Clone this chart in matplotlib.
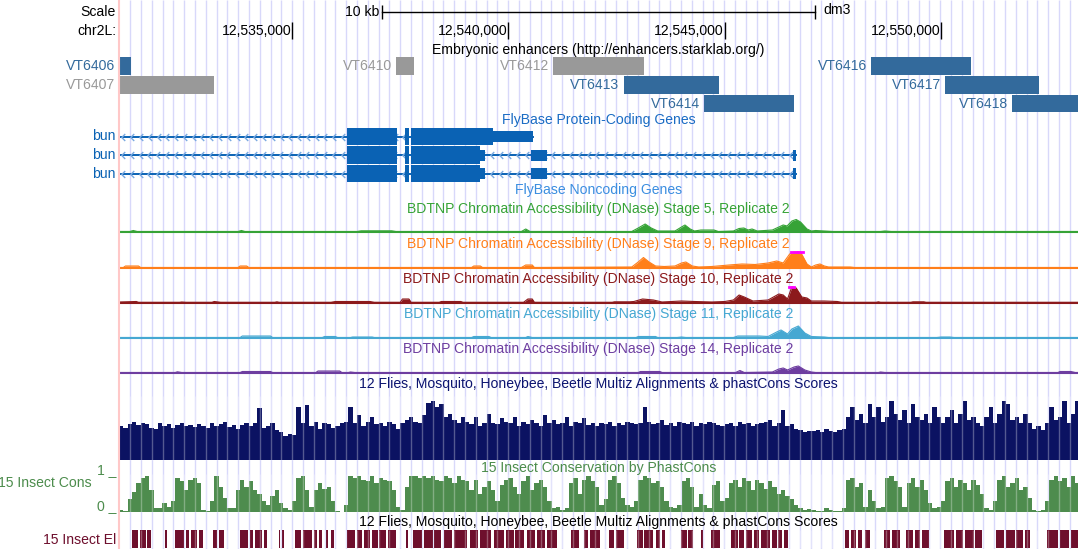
import numpy as np
import matplotlib.pyplot as plt
from matplotlib.path import Path

plt.rcParams['font.family'] = ['Liberation Sans', 'DejaVu Sans']

# ---- data (positions in kb on chr2L) ----
win_start = 12531.0
win_end = 12553.163

tick_kb = [12535, 12540, 12545, 12550]
tick_labels = ['12,535,000', '12,540,000', '12,545,000', '12,550,000']

enh_names = ['VT6406', 'VT6407', 'VT6410', 'VT6412', 'VT6413', 'VT6414', 'VT6416', 'VT6417', 'VT6418']
enh_start = [12530.90, 12530.90, 12537.40, 12541.04, 12542.66, 12544.51, 12548.38, 12550.09, 12551.64]
enh_end = [12531.28, 12533.19, 12537.82, 12543.13, 12544.87, 12546.61, 12550.68, 12552.27, 12553.70]
enh_row = [0, 1, 0, 0, 1, 2, 0, 1, 2]
enh_active = [True, False, False, False, True, True, True, True, True]

# bun transcripts: exons, coding range, transcript end
tx_exons = [
    [(12536.26, 12537.42), (12537.62, 12537.70), (12537.74, 12540.56)],
    [(12536.26, 12537.42), (12537.62, 12537.70), (12537.74, 12539.47), (12540.51, 12540.88), (12546.57, 12546.64)],
    [(12536.26, 12537.42), (12537.62, 12537.70), (12537.74, 12539.47), (12540.51, 12540.88), (12546.57, 12546.64)],
]
tx_cds = [(12536.26, 12539.65), (12536.26, 12539.34), (12536.26, 12539.34)]
tx_end = [12540.56, 12546.64, 12546.64]

# DNase signal, (position, signal)
stage5 = [(12531.00, 0.5), (12531.25, 0.5), (12531.33, 1.5), (12531.42, 0.5), (12533.75, 0.5), (12533.83, 1.5),
          (12533.91, 0.5), (12536.50, 0.5), (12536.60, 1.2), (12537.30, 1.2), (12537.40, 0.5), (12540.30, 0.5),
          (12540.40, 3), (12540.50, 0.5), (12542.85, 0.5), (12543.00, 4), (12543.16, 8), (12543.30, 4),
          (12543.45, 1), (12543.85, 1), (12544.00, 5), (12544.08, 7), (12544.20, 3), (12544.30, 1),
          (12544.45, 2), (12544.75, 2), (12544.85, 0.5), (12545.20, 1), (12545.33, 3.5), (12545.44, 4),
          (12545.54, 2), (12545.63, 3), (12545.75, 1), (12546.10, 2), (12546.25, 5), (12546.35, 7),
          (12546.44, 6), (12546.55, 11), (12546.65, 12.5), (12546.75, 10), (12546.90, 3), (12547.00, 1),
          (12547.10, 1.5), (12547.30, 1), (12547.50, 0.5), (12548.60, 0.5), (12548.70, 1), (12548.85, 0.5),
          (12553.20, 0.5)]
stage9 = [(12531.00, 0.5), (12531.10, 0.5), (12531.15, 2), (12531.45, 2), (12531.50, 0.5), (12533.75, 0.5),
          (12533.80, 2), (12533.95, 2), (12534.00, 0.5), (12539.15, 0.5), (12539.20, 2), (12539.35, 2),
          (12539.40, 0.5), (12540.30, 0.5), (12540.40, 3), (12540.55, 3), (12540.60, 0.5), (12542.85, 1),
          (12543.00, 6), (12543.12, 10.5), (12543.25, 6), (12543.40, 2), (12543.60, 1.5), (12543.85, 2),
          (12544.00, 5), (12544.10, 6), (12544.25, 2), (12544.40, 1), (12544.70, 1.5), (12545.10, 3),
          (12545.40, 4), (12545.70, 3.5), (12546.00, 5), (12546.20, 7), (12546.35, 5), (12546.50, 14),
          (12546.60, 17), (12546.75, 16.5), (12546.90, 4), (12547.00, 1), (12547.10, 3), (12547.20, 4),
          (12547.30, 2), (12547.40, 1), (12547.90, 1), (12548.00, 0.5), (12553.20, 0.5)]
stage10 = [(12531.00, 1), (12531.40, 1.5), (12531.45, 0.7), (12532.40, 0.7), (12532.45, 1), (12532.55, 0.7),
           (12533.15, 0.7), (12533.20, 1.5), (12533.35, 0.7), (12534.60, 0.7), (12534.65, 1.2), (12534.70, 0.7),
           (12535.90, 0.7), (12536.00, 1.5), (12536.80, 1.5), (12536.90, 0.7), (12537.50, 0.7), (12537.55, 4),
           (12537.70, 4), (12537.75, 0.7), (12538.40, 0.7), (12538.45, 1.5), (12538.90, 1.5), (12538.95, 0.7),
           (12540.35, 0.7), (12540.45, 4), (12540.55, 4), (12540.60, 0.7), (12542.40, 0.7), (12542.45, 1.2),
           (12542.80, 1.2), (12542.90, 1.5), (12543.10, 4), (12543.35, 3), (12543.55, 1), (12544.00, 2),
           (12544.30, 1.5), (12544.70, 1), (12545.00, 1.5), (12545.20, 3), (12545.33, 8), (12545.45, 6),
           (12545.65, 2), (12546.00, 3), (12546.25, 9), (12546.35, 8), (12546.45, 4), (12546.55, 17),
           (12546.65, 15), (12546.78, 6), (12546.90, 5), (12547.00, 2), (12547.30, 2), (12547.60, 1.5),
           (12547.70, 0.7), (12548.50, 0.7), (12548.55, 1.2), (12548.60, 0.7), (12549.30, 0.7), (12549.35, 1.2),
           (12549.60, 1.2), (12549.65, 0.7), (12553.20, 0.7)]
stage11 = [(12531.00, 0.5), (12533.80, 0.5), (12533.85, 2), (12534.50, 2), (12534.55, 0.5), (12535.70, 0.5),
           (12535.75, 1.5), (12536.00, 1.5), (12536.05, 0.5), (12536.35, 0.5), (12536.40, 1), (12536.85, 1),
           (12536.90, 0.5), (12539.15, 0.5), (12539.20, 1.5), (12539.55, 1.5), (12539.60, 0.5), (12540.40, 0.5),
           (12540.45, 1.5), (12540.55, 0.5), (12542.95, 0.5), (12543.00, 1.5), (12543.40, 1.5), (12543.45, 0.5),
           (12543.90, 0.5), (12544.00, 1), (12544.10, 0.5), (12545.20, 0.5), (12545.30, 2), (12545.80, 2),
           (12546.00, 1.5), (12546.20, 6), (12546.30, 8), (12546.45, 4), (12546.55, 9), (12546.70, 12),
           (12546.85, 5), (12547.00, 1.5), (12547.30, 1), (12547.40, 0.5), (12549.90, 0.5), (12550.00, 1),
           (12550.20, 1), (12550.30, 0.5), (12553.20, 0.5)]
stage14 = [(12531.00, 0.5), (12532.30, 0.5), (12532.35, 1.2), (12532.45, 0.5), (12533.80, 0.5), (12533.85, 1.5),
           (12534.50, 1.5), (12534.55, 0.5), (12535.55, 0.5), (12535.60, 2), (12536.10, 2), (12536.15, 0.5),
           (12536.30, 0.5), (12536.35, 1), (12536.45, 0.5), (12543.00, 0.5), (12543.05, 1.5), (12543.50, 1.5),
           (12543.55, 0.5), (12545.25, 0.5), (12545.35, 2.5), (12545.45, 0.5), (12546.10, 1), (12546.25, 4),
           (12546.35, 5), (12546.45, 3), (12546.60, 6), (12546.70, 7), (12546.85, 3), (12547.00, 1),
           (12547.10, 0.5), (12548.55, 0.5), (12548.60, 1), (12548.70, 0.5), (12552.70, 0.5), (12552.75, 1.5),
           (12553.00, 1.5), (12553.10, 0.5), (12553.20, 0.5)]

# multiz / phastCons scores in 100 bp bins from win_start
multiz = [0.55, 0.52, 0.58, 0.62, 0.57, 0.60, 0.58, 0.52, 0.50, 0.60,
          0.55, 0.58, 0.52, 0.56, 0.60, 0.55, 0.57, 0.54, 0.58, 0.55,
          0.52, 0.60, 0.55, 0.58, 0.62, 0.54, 0.57, 0.50, 0.56, 0.60,
          0.55, 0.60, 0.84, 0.52, 0.55, 0.60, 0.48, 0.45, 0.38, 0.42,
          0.40, 0.85, 0.60, 0.88, 0.55, 0.62, 0.50, 0.60, 0.58, 0.52,
          0.55, 0.60, 0.62, 0.86, 0.60, 0.72, 0.55, 0.62, 0.70, 0.58,
          0.60, 0.55, 0.62, 0.58, 0.50, 0.60, 0.65, 0.70, 0.62, 0.60,
          0.72, 0.92, 0.95, 0.85, 0.90, 0.70, 0.75, 0.65, 0.60, 0.70,
          0.62, 0.58, 0.70, 0.55, 0.60, 0.75, 0.60, 0.58, 0.68, 0.62,
          0.60, 0.70, 0.55, 0.62, 0.58, 0.65, 0.60, 0.55, 0.72, 0.60,
          0.65, 0.58, 0.60, 0.70, 0.55, 0.62, 0.60, 0.68, 0.57, 0.60,
          0.55, 0.60, 0.58, 0.62, 0.55, 0.60, 0.57, 0.62, 0.60, 0.58,
          0.60, 0.85, 0.62, 0.58, 0.60, 0.65, 0.57, 0.60, 0.55, 0.62,
          0.60, 0.58, 0.62, 0.55, 0.60, 0.58, 0.62, 0.60, 0.57, 0.55,
          0.58, 0.60, 0.55, 0.62, 0.58, 0.60, 0.55, 0.58, 0.60, 0.62,
          0.65, 0.55, 0.60, 0.80, 0.55, 0.58, 0.50, 0.48, 0.45, 0.47,
          0.46, 0.48, 0.45, 0.50, 0.47, 0.45, 0.48, 0.50, 0.70, 0.85,
          0.65, 0.75, 0.60, 0.90, 0.70, 0.85, 0.62, 0.70, 0.95, 0.75,
          0.65, 0.80, 0.60, 0.90, 0.70, 0.65, 0.75, 0.60, 0.85, 0.70,
          0.60, 0.70, 0.80, 0.60, 0.75, 0.95, 0.65, 0.70, 0.60, 0.55,
          0.70, 0.85, 0.60, 0.75, 0.95, 0.90, 0.65, 0.70, 0.60, 0.75,
          0.60, 0.50, 0.55, 0.48, 0.60, 0.85, 0.65, 0.70, 0.95, 0.60,
          0.75, 0.95]
phastcons = [0.05, 0.04, 0.35, 0.55, 0.80, 0.95, 1.00, 0.60, 0.12, 0.10,
             0.25, 0.15, 0.30, 0.95, 0.85, 0.60, 0.90, 0.95, 0.80, 0.05,
             0.02, 0.30, 1.00, 0.70, 0.40, 0.10, 0.10, 0.60, 0.90, 0.70,
             0.85, 0.60, 0.50, 0.30, 0.20, 0.45, 0.60, 0.25, 0.10, 0.05,
             0.30, 0.95, 1.00, 0.60, 0.15, 0.60, 0.80, 0.65, 0.70, 0.30,
             0.02, 0.01, 0.20, 1.00, 0.95, 1.00, 0.90, 0.85, 1.00, 0.80,
             0.95, 0.90, 0.85, 0.60, 0.15, 0.05, 0.70, 1.00, 1.00, 0.95,
             1.00, 0.95, 1.00, 0.90, 0.85, 1.00, 0.95, 0.80, 1.00, 0.90,
             0.85, 0.60, 0.90, 0.50, 0.70, 0.85, 0.60, 0.30, 0.75, 0.90,
             0.95, 0.70, 0.50, 0.85, 1.00, 0.60, 0.80, 0.90, 0.70, 0.30,
             0.10, 0.15, 0.05, 0.10, 0.80, 0.95, 0.50, 0.90, 1.00, 0.85,
             0.70, 0.20, 0.35, 0.90, 1.00, 0.80, 0.40, 0.20, 0.15, 0.30,
             0.90, 1.00, 0.95, 0.80, 0.85, 0.70, 0.30, 0.15, 0.10, 0.20,
             0.85, 0.95, 0.70, 0.15, 0.50, 0.20, 0.10, 0.75, 0.85, 0.30,
             0.40, 0.80, 0.90, 0.70, 0.95, 0.85, 0.60, 0.90, 0.80, 0.65,
             0.85, 0.70, 0.50, 0.60, 0.45, 0.35, 0.20, 0.10, 0.05, 0.08,
             0.05, 0.03, 0.04, 0.10, 0.05, 0.02, 0.03, 0.10, 0.90, 0.95,
             0.70, 0.80, 0.15, 0.60, 0.30, 0.10, 0.15, 0.95, 1.00, 0.85,
             0.70, 0.15, 0.80, 0.95, 0.70, 0.90, 0.60, 0.25, 0.10, 0.15,
             0.30, 0.85, 0.95, 0.70, 0.90, 0.80, 0.60, 0.90, 0.75, 0.50,
             0.10, 0.05, 0.30, 0.90, 1.00, 0.70, 0.80, 0.95, 0.60, 0.70,
             0.40, 0.05, 0.03, 0.05, 0.30, 0.90, 1.00, 0.85, 0.95, 0.70,
             1.00, 0.80]

# conserved elements (start, end)
elements = [
    (12531.31, 12531.45), (12531.49, 12531.62), (12531.65, 12531.73), (12532.06, 12532.11),
    (12532.29, 12532.50), (12532.54, 12532.62), (12532.66, 12532.80), (12532.84, 12532.94),
    (12533.17, 12533.27), (12533.31, 12533.43), (12533.80, 12533.98), (12534.02, 12534.10),
    (12534.14, 12534.30), (12534.35, 12534.42), (12534.70, 12534.73), (12534.77, 12534.81),
    (12535.07, 12535.20), (12535.25, 12535.46), (12535.51, 12535.58), (12535.63, 12535.70),
    (12535.78, 12535.84), (12535.90, 12535.97), (12536.27, 12536.45), (12536.49, 12536.62),
    (12536.66, 12536.80), (12536.84, 12536.98), (12537.02, 12537.18), (12537.22, 12537.40),
    (12537.63, 12537.68), (12537.79, 12538.00), (12538.04, 12538.25), (12538.29, 12538.45),
    (12538.52, 12538.70), (12538.74, 12539.05), (12539.12, 12539.30), (12539.34, 12539.60),
    (12539.66, 12539.90), (12539.94, 12540.12), (12540.16, 12540.35), (12540.42, 12540.62),
    (12540.66, 12540.85), (12540.90, 12541.12), (12541.45, 12541.63), (12541.75, 12541.85),
    (12541.89, 12542.12), (12542.32, 12542.45), (12542.49, 12542.67), (12542.97, 12543.10),
    (12543.14, 12543.35), (12543.40, 12543.50), (12543.55, 12543.62), (12543.99, 12544.12),
    (12544.16, 12544.27), (12544.45, 12544.50), (12544.68, 12544.89), (12545.14, 12545.30),
    (12545.34, 12545.45), (12545.49, 12545.62), (12545.68, 12545.80), (12545.84, 12546.05),
    (12546.10, 12546.20), (12546.24, 12546.33), (12546.37, 12546.46), (12547.78, 12547.88),
    (12547.92, 12548.04), (12548.08, 12548.17), (12548.24, 12548.36), (12548.68, 12548.82),
    (12548.86, 12549.05), (12549.19, 12549.35), (12549.39, 12549.50), (12549.55, 12549.72),
    (12550.07, 12550.30), (12550.34, 12550.50), (12550.54, 12550.75), (12550.79, 12550.94),
    (12551.27, 12551.45), (12551.49, 12551.70), (12551.74, 12551.90), (12551.94, 12552.05),
    (12552.45, 12552.70), (12552.74, 12552.95), (12552.99, 12553.40),
]

# ---- figure / layout (pixel rows) ----
W, H = 1078, 549
left_px = 119
fs = 10.1
fig = plt.figure(figsize=(W / 100, H / 100), dpi=100)
ax = fig.add_axes([left_px / W, 0, (W - left_px) / W, 1])
ax.set_xlim(win_start, win_end)
ax.set_ylim(H, 0)
ax.axis('off')
lay = fig.add_axes([0, 0, 1, 1])
lay.set_xlim(0, W)
lay.set_ylim(H, 0)
lay.axis('off')

kbpp = (win_end - win_start) / (W - left_px)
mid = (win_start + win_end) / 2

# guidelines every ~10.8 px
guide_px = np.arange(130.2, W, 10.8)
guide_kb = win_start + (guide_px - left_px) * kbpp
ax.vlines(guide_kb, 0, H, color='#d8d8fa', lw=1, zorder=0)
lay.axvline(left_px, color='#ffc8c8', lw=1.5)

def title(s, y, col):
    ax.text(mid, y, s, ha='center', va='center', color=col, fontsize=fs, zorder=10)

def left_label(s, x, y, col, **kw):
    lay.text(x, y, s, ha='right', va='center', color=col, fontsize=fs, **kw)

# scale bar and position ticks
left_label('Scale', 116, 12, 'black')
left_label('chr2L:', 116, 31, 'black')
ax.plot([mid - 5, mid + 5], [12, 12], color='black', lw=1)
ax.vlines([mid - 5, mid + 5], 5, 19, color='black', lw=1)
ax.annotate('10 kb', (mid - 5, 12), xytext=(-3, 0), textcoords='offset pixels', ha='right', va='center', fontsize=fs)
ax.annotate('dm3', (mid + 5, 10), xytext=(9, 0), textcoords='offset pixels', ha='left', va='center', fontsize=fs)
ax.vlines(tick_kb, 22, 39, color='black', lw=1)
for t, lab in zip(tick_kb, tick_labels):
    ax.annotate(lab, (t, 31), xytext=(-1, 0), textcoords='offset pixels', ha='right', va='center', fontsize=fs)

# enhancers
title('Embryonic enhancers (http://enhancers.starklab.org/)', 50, 'black')
enh_row_y = [66, 85, 103.5]
for name, s, e, r, act in zip(enh_names, enh_start, enh_end, enh_row, enh_active):
    col = '#336a9c' if act else '#999999'
    ax.barh(enh_row_y[r], e - s, left=s, height=17.5, color=col, linewidth=0)
    ax.annotate(name, (max(s, win_start), enh_row_y[r]), xytext=(-4, 0), textcoords='offset pixels',
                ha='right', va='center', color=col, fontsize=fs, annotation_clip=False)

# genes
gene_col = '#0a62b4'
title('FlyBase Protein-Coding Genes', 120, '#1a6cc4')
chevron = Path([(0.5, 1), (-0.5, 0), (0.5, -1)], [Path.MOVETO, Path.LINETO, Path.LINETO])
gene_row_y = [136.5, 155, 173.5]
for y, exons, cds, te in zip(gene_row_y, tx_exons, tx_cds, tx_end):
    ax.plot([win_start - 1, te], [y, y], color=gene_col, lw=1.4, zorder=2)
    ch = np.arange(te - 0.12, win_start, -0.203)
    ax.plot(ch, [y] * len(ch), ls='none', marker=chevron, ms=5, mec='#78a8e0', mew=1, mfc='none', zorder=2)
    for s, e in exons:
        ax.barh(y, e - s, left=s, height=11, color=gene_col, linewidth=0, zorder=3)
        cs, ce = max(s, cds[0]), min(e, cds[1])
        if ce > cs:
            ax.barh(y, ce - cs, left=cs, height=17.5, color=gene_col, linewidth=0, zorder=3)
    ax.annotate('bun', (win_start, y), xytext=(-3, 0), textcoords='offset pixels', ha='right', va='center',
                color=gene_col, fontsize=fs, annotation_clip=False)
title('FlyBase Noncoding Genes', 190, '#3b8ee0')

# DNase tracks
dnase = [
    (stage5, 'Stage 5', '#36a336', 209, 232),
    (stage9, 'Stage 9', '#ff7f1a', 244, 268),
    (stage10, 'Stage 10', '#8c1a1c', 279, 303),
    (stage11, 'Stage 11', '#46a8d2', 314, 338),
    (stage14, 'Stage 14', '#6e3ea0', 349, 373),
]
dmax = 16
for prof, stage, col, ty, base in dnase:
    title('BDTNP Chromatin Accessibility (DNase) %s, Replicate 2' % stage, ty, col)
    xs = np.array([p for p, v in prof])
    hs = np.array([v for p, v in prof])
    hc = np.minimum(hs, dmax)
    ax.fill_between(xs, base, base - hc, color=col, lw=0)
    ax.plot(xs, base - hc, color=col, lw=0.8)
    ax.plot([win_start, win_end], [base, base], color=col, lw=1.5)
    for p in xs[hs > dmax]:
        ax.plot([p - 0.06, p + 0.06], [base - dmax, base - dmax], color='#ff00ff', lw=2)

# multiz
title('12 Flies, Mosquito, Honeybee, Beetle Multiz Alignments & phastCons Scores', 384, '#0c1470')
bins = win_start + 0.1 * np.arange(len(multiz))
ax.bar(bins, -np.array(multiz) * 62, bottom=460, width=0.1, align='edge', color='#0b1262', linewidth=0)

# phastCons
title('15 Insect Conservation by PhastCons', 468, '#4c8c4c')
bins = win_start + 0.1 * np.arange(len(phastcons))
ax.bar(bins, -np.array(phastcons) * 36, bottom=512, width=0.1, align='edge', color='#4e8c4e', linewidth=0)
left_label('15 Insect Cons', 92, 483, '#4c8c4c')
lay.text(116, 474, '1 _', ha='right', va='baseline', color='#4c8c4c', fontsize=fs)
lay.text(116, 510, '0 _', ha='right', va='baseline', color='#4c8c4c', fontsize=fs)

# elements
title('12 Flies, Mosquito, Honeybee, Beetle Multiz Alignments & phastCons Scores', 522, 'black')
el_s = np.array([s for s, e in elements])
el_e = np.array([e for s, e in elements])
ax.bar(el_s, -18, bottom=548, width=el_e - el_s, align='edge', color='#6e0f2d', linewidth=0)
left_label('15 Insect El', 116, 540, '#6e0f2d')

# guideline streaks through the dense wiggles
for y0, y1 in [(396, 460), (474, 512), (530, 548)]:
    ax.vlines(guide_kb, y0, y1, color='white', alpha=0.3, lw=1, zorder=5)

fig.savefig('out.png', dpi=100)
